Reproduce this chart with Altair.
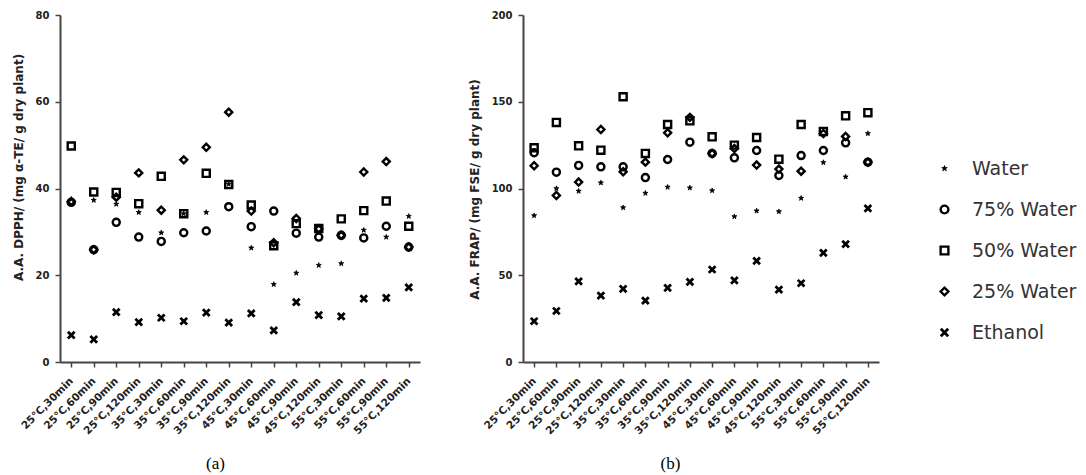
import altair as alt
import pandas as pd

# Extraction conditions (temperature, time)
conditions = [
    "25°C,30min", "25°C,60min", "25°C,90min", "25°C,120min",
    "35°C,30min", "35°C,60min", "35°C,90min", "35°C,120min",
    "45°C,30min", "45°C,60min", "45°C,90min", "45°C,120min",
    "55°C,30min", "55°C,60min", "55°C,90min", "55°C,120min",
]
solvents = ["Water", "75% Water", "50% Water", "25% Water", "Ethanol"]

# DPPH antioxidant activity (mg α-TE / g dry plant)
dpph_water = [37.5, 37.3, 36.4, 34.5, 29.8, 34.2, 34.5, 41.0, 26.3, 17.9, 20.5, 22.3, 22.7, 30.4, 28.8, 33.6]
dpph_w75 = [36.8, 25.9, 32.2, 28.8, 27.8, 29.8, 30.2, 35.8, 31.2, 34.8, 29.7, 28.8, 29.2, 28.6, 31.3, 26.5]
dpph_w50 = [49.8, 39.2, 39.1, 36.5, 42.8, 34.2, 43.5, 40.9, 36.2, 26.8, 31.9, 30.8, 33.0, 34.9, 37.1, 31.3]
dpph_w25 = [37.0, 25.9, 38.0, 43.6, 35.0, 46.6, 49.5, 57.6, 34.8, 27.5, 33.1, 30.7, 29.2, 43.8, 46.2, 26.5]
dpph_ethanol = [6.2, 5.2, 11.5, 9.2, 10.2, 9.4, 11.4, 9.1, 11.2, 7.3, 13.8, 10.8, 10.5, 14.6, 14.8, 17.2]

# FRAP antioxidant activity (mg FSE / g dry plant)
frap_water = [84.4, 100.0, 98.5, 103.3, 89.0, 97.3, 100.8, 100.4, 98.8, 83.8, 87.1, 86.7, 94.4, 115.0, 106.7, 131.7]
frap_w75 = [120.6, 109.4, 113.3, 112.5, 112.5, 106.3, 116.7, 126.7, 120.2, 117.7, 121.9, 107.5, 119.0, 121.9, 126.3, 115.2]
frap_w50 = [123.5, 138.1, 124.6, 122.1, 152.9, 120.2, 136.9, 139.0, 129.8, 125.0, 129.4, 116.9, 136.9, 132.9, 141.9, 143.7]
frap_w25 = [113.1, 96.0, 103.7, 134.0, 109.6, 115.2, 132.1, 141.0, 120.2, 123.0, 113.5, 111.2, 110.0, 131.7, 130.0, 115.2]
frap_ethanol = [23.5, 29.4, 46.5, 38.3, 42.1, 35.4, 42.7, 46.2, 53.3, 47.1, 58.3, 41.7, 45.4, 62.9, 67.9, 88.5]

# Marker shapes: small filled star, open circle, open square, open diamond, bold x
star_path = (
    "M0,-0.75L0.18,-0.24L0.71,-0.24L0.28,0.09L0.44,0.61L0,0.29"
    "L-0.44,0.61L-0.28,0.09L-0.71,-0.24L-0.18,-0.24Z"
)
x_path = "M-0.95,-0.95L0.95,0.95M-0.95,0.95L0.95,-0.95"
shape_range = [star_path, "circle", "square", "diamond", x_path]
fill_range = ["black", "transparent", "transparent", "transparent", "transparent"]
stroke_range = [0.8, 2.4, 2.4, 2.4, 2.8]

SANS = "DejaVu Sans"


def long_table(series):
    rows = []
    for name, vals in zip(solvents, series):
        for cond, v in zip(conditions, vals):
            rows.append({"condition": cond, "solvent": name, "value": v})
    return pd.DataFrame(rows)


def panel(df, ymax, ystep, ytitle, caption, width, caption_x, title_y):
    return (
        alt.Chart(df)
        .mark_point(filled=False, size=50, color="black", opacity=1)
        .encode(
            x=alt.X(
                "condition:N",
                sort=conditions,
                scale=alt.Scale(type="point", padding=0.5),
                axis=alt.Axis(
                    title=caption,
                    labelAngle=-45,
                    labelAlign="right",
                    labelBaseline="middle",
                    labelPadding=12,
                    labelFontSize=10.5,
                    titleX=caption_x,
                    titleY=101,
                    titleAlign="center",
                    titleBaseline="middle",
                    titleFont="Liberation Serif",
                    titleFontSize=17,
                    titleFontWeight="normal",
                    titleColor="black",
                ),
            ),
            y=alt.Y(
                "value:Q",
                scale=alt.Scale(domain=[0, ymax], nice=False, zero=True),
                axis=alt.Axis(
                    title=ytitle,
                    values=list(range(0, ymax + 1, ystep)),
                    labelPadding=6,
                    titlePadding=10,
                    titleY=title_y,
                ),
            ),
            shape=alt.Shape(
                "solvent:N",
                sort=solvents,
                scale=alt.Scale(domain=solvents, range=shape_range),
                legend=alt.Legend(title=None),
            ),
            fill=alt.Fill(
                "solvent:N",
                scale=alt.Scale(type="ordinal", domain=solvents, range=fill_range),
                legend=None,
            ),
            strokeWidth=alt.StrokeWidth(
                "solvent:N",
                scale=alt.Scale(type="ordinal", domain=solvents, range=stroke_range),
                legend=None,
            ),
        )
        .properties(width=width, height=347)
    )


dpph = panel(
    long_table([dpph_water, dpph_w75, dpph_w50, dpph_w25, dpph_ethanol]),
    80, 20, "A.A. DPPH/ (mg α-TE/ g dry plant)", "(a)", 360, 155, 152,
)
frap = panel(
    long_table([frap_water, frap_w75, frap_w50, frap_w25, frap_ethanol]),
    200, 50, "A.A. FRAP/ (mg FSE/ g dry plant)", "(b)", 356, 147, 174,
)

chart = (
    alt.hconcat(dpph, frap, spacing=48)
    .properties(padding={"left": 12, "top": 10, "right": 5, "bottom": 2}, background="white")
    .configure_view(stroke=None)
    .configure_axis(
        grid=False,
        domainColor="#444444",
        domainWidth=2,
        tickColor="#444444",
        tickWidth=1.5,
        tickSize=5,
        labelFont=SANS,
        labelFontWeight="bold",
        labelFontSize=10,
        labelColor="#222222",
        titleFont=SANS,
        titleFontWeight="bold",
        titleFontSize=12,
        titleColor="#222222",
    )
    .configure_legend(
        orient="none",
        legendX=875,
        legendY=144,
        labelFont=SANS,
        labelFontSize=19,
        labelColor="#333333",
        labelOffset=18,
        symbolSize=60,
        symbolStrokeWidth=2.5,
        symbolStrokeColor="black",
        symbolFillColor="transparent",
        rowPadding=21,
    )
)

chart.save("out.html", embed_options={"renderer": "svg", "actions": False})
